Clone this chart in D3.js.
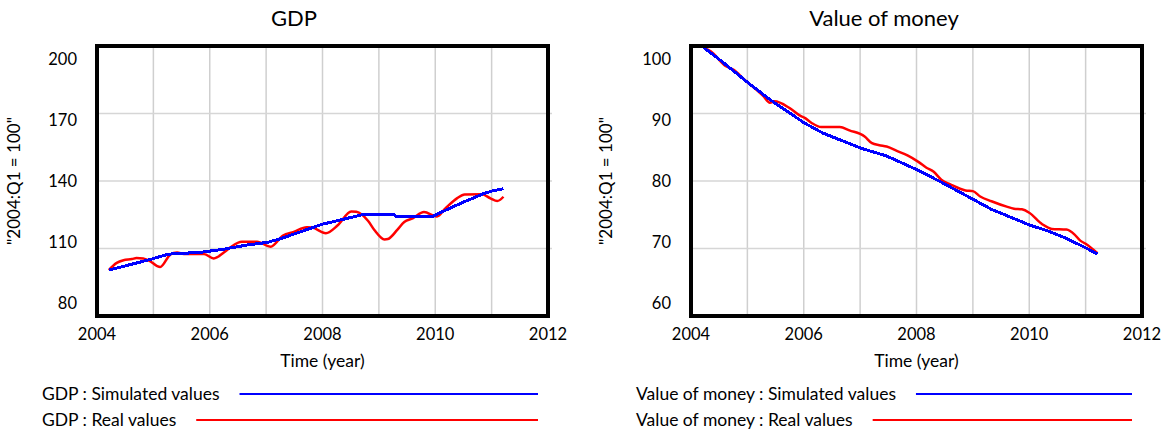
<!DOCTYPE html>
<html>
<head>
<meta charset="utf-8">
<script src="https://cdn.jsdelivr.net/npm/d3@7"></script>
<style>
    body { margin: 0; background: #fff; }
    text { font-family: Lato, "Open Sans", sans-serif; fill: #000; }
</style>
</head>
<body>
<div id="chart-area"></div>
<script>

// GDP (2004:Q1 = 100)
const gdpSimTime = [2004.21, 2004.94, 2005.27, 2005.84, 2006.25, 2006.67, 2007.02, 2007.26, 2008.00, 2008.69, 2009.28, 2009.31, 2009.94, 2010.06, 2010.48, 2010.85, 2011.00, 2011.21];
const gdpSim     = [100.4, 105.1, 107.5, 108.3, 109.7, 111.6, 112.7, 114.4, 120.8, 124.9, 124.9, 124.1, 124.1, 125.6, 130.4, 134.3, 135.5, 136.6];

const gdpRealTime = [2004.21, 2004.35, 2004.47, 2004.62, 2004.70, 2004.82, 2004.94, 2005.06, 2005.12, 2005.30, 2005.42, 2005.54, 2005.90, 2006.07, 2006.25, 2006.37, 2006.57, 2006.84, 2007.08, 2007.30, 2007.49, 2007.72, 2007.82, 2008.06, 2008.27, 2008.51, 2008.60, 2008.81, 2008.92, 2009.10, 2009.16, 2009.33, 2009.45, 2009.60, 2009.80, 2010.03, 2010.18, 2010.39, 2010.52, 2010.83, 2010.98, 2011.10, 2011.21];
const gdpReal     = [100.4, 103.6, 104.8, 105.3, 105.8, 105.6, 104.4, 102.3, 101.8, 107.3, 108.2, 107.6, 107.5, 105.6, 108.2, 110.6, 113.0, 113.0, 110.8, 115.8, 117.4, 119.5, 119.3, 116.8, 120.3, 126.5, 126.3, 122.2, 118.2, 114.0, 114.2, 118.4, 121.8, 123.4, 126.2, 124.2, 127.8, 132.4, 134.0, 134.1, 132.3, 131.1, 133.0];

// Value of money (2004:Q1 = 100)
const vomSimTime = [2004.22, 2004.55, 2005.02, 2005.41, 2006.01, 2006.34, 2007.00, 2007.47, 2008.00, 2008.40, 2009.00, 2009.33, 2010.00, 2010.33, 2010.66, 2011.00, 2011.21];
const vomSim     = [99.8, 97.7, 94.5, 92.0, 88.6, 87.1, 84.9, 83.7, 81.7, 80.0, 77.3, 75.8, 73.5, 72.6, 71.5, 70.1, 69.2];

const vomRealTime = [2004.22, 2004.35, 2004.62, 2004.75, 2004.95, 2005.28, 2005.40, 2005.48, 2005.75, 2005.95, 2006.01, 2006.14, 2006.31, 2006.64, 2006.81, 2007.08, 2007.21, 2007.34, 2007.47, 2007.67, 2007.84, 2008.04, 2008.17, 2008.30, 2008.44, 2008.60, 2008.87, 2009.00, 2009.13, 2009.33, 2009.60, 2009.73, 2009.87, 2010.00, 2010.23, 2010.40, 2010.66, 2010.80, 2010.90, 2011.00, 2011.21];
const vomReal     = [99.8, 99.2, 97.0, 96.5, 95.0, 92.6, 91.6, 91.8, 90.8, 89.6, 89.4, 88.6, 88.0, 88.0, 87.5, 86.6, 85.6, 85.3, 85.1, 84.4, 83.8, 82.8, 82.0, 81.4, 80.2, 79.5, 78.6, 78.5, 77.7, 77.0, 76.2, 75.9, 75.8, 75.3, 73.6, 72.9, 72.8, 72.1, 71.2, 70.7, 69.3];

const timeTicks = [2004, 2006, 2008, 2010, 2012];
const gridYears = [2005, 2006, 2007, 2008, 2009, 2010, 2011];
const gdpTicks = [80, 110, 140, 170, 200];
const vomTicks = [60, 70, 80, 90, 100];


class SimChart {

    constructor(svg, config) {
        this.svg = svg;
        this.config = config;
        this.initVis();
    }

    initVis() {
        let vis = this;
        let c = vis.config;

        vis.g = vis.svg.append("g");

        vis.x = d3.scaleLinear().domain([2004, 2012]).range([c.left, c.right]);
        vis.y = d3.scaleLinear().domain(c.domain).range([c.bottom, c.top]);
        // vensim spreads the tick labels evenly, inset from the frame
        vis.yLabel = d3.scaleLinear().domain(c.domain).range([c.bottom - 13, c.top + 13]);

        // grid
        vis.g.selectAll(".vgrid")
            .data(gridYears)
            .enter().append("line")
            .attr("x1", d => vis.x(d)).attr("x2", d => vis.x(d))
            .attr("y1", c.top).attr("y2", c.bottom)
            .attr("stroke", "#cfcfcf").attr("stroke-width", 1.5);

        vis.g.selectAll(".hgrid")
            .data(c.ticks.slice(1, -1))
            .enter().append("line")
            .attr("x1", c.left).attr("x2", c.right + 4)
            .attr("y1", d => vis.y(d)).attr("y2", d => vis.y(d))
            .attr("stroke", "#d6d6d6").attr("stroke-width", 1.5);

        // series
        let line = (xs, ys) => d3.line()
            .x((d, i) => vis.x(xs[i]))
            .y(d => vis.y(d))
            .curve(d3.curveMonotoneX)(ys);

        vis.g.append("path")
            .attr("d", line(c.realTime, c.real))
            .attr("fill", "none").attr("stroke", "#ff0000").attr("stroke-width", 2.5);

        vis.g.append("path")
            .attr("d", d3.line().x((d, i) => vis.x(c.simTime[i])).y(d => vis.y(d))(c.sim))
            .attr("fill", "none").attr("stroke", "#0000ff").attr("stroke-width", 3)
            .attr("shape-rendering", "crispEdges");

        // frame
        vis.g.append("rect")
            .attr("x", c.left).attr("y", c.top)
            .attr("width", c.right - c.left).attr("height", c.bottom - c.top)
            .attr("fill", "none").attr("stroke", "#000").attr("stroke-width", 4);

        // tick labels
        vis.g.selectAll(".xlab")
            .data(timeTicks)
            .enter().append("text")
            .attr("x", d => vis.x(d)).attr("y", c.bottom + 24)
            .attr("text-anchor", "middle").style("font-size", "16.5px")
            .text(d => d);

        vis.g.selectAll(".ylab")
            .data(c.ticks)
            .enter().append("text")
            .attr("x", c.left - 20).attr("y", d => vis.yLabel(d) + 6)
            .attr("text-anchor", "end").style("font-size", "16.5px")
            .text(d => d);

        // titles
        vis.g.append("text")
            .attr("x", c.titleX).attr("y", 26)
            .attr("text-anchor", "middle").style("font-size", "22px")
            .text(c.title);

        vis.g.append("text")
            .attr("x", (c.left + c.right) / 2).attr("y", 367)
            .attr("text-anchor", "middle").style("font-size", "17.5px")
            .text("Time (year)");

        vis.g.append("text")
            .attr("transform", `translate(${c.yTitleX},${(c.top + c.bottom) / 2}) rotate(-90)`)
            .attr("text-anchor", "middle").style("font-size", "17px")
            .text('"2004:Q1 = 100"');

        // legend
        let legend = [
            {label: c.title + " : Simulated values", color: "#0000ff", y: 394},
            {label: c.title + " : Real values", color: "#ff0000", y: 420}
        ];
        legend.forEach(l => {
            let t = vis.g.append("text")
                .attr("x", c.legendX).attr("y", l.y + 6)
                .style("font-size", "17.5px")
                .text(l.label);
            let end = c.legendX + t.node().getComputedTextLength();
            vis.g.append("line")
                .attr("x1", end + 20).attr("x2", c.right - 10)
                .attr("y1", l.y).attr("y2", l.y)
                .attr("stroke", l.color).attr("stroke-width", 2);
        });
    }
}

let svg = d3.select("#chart-area").append("svg")
    .attr("width", 1164)
    .attr("height", 430);

new SimChart(svg, {
    title: "GDP", titleX: 294, yTitleX: 20, legendX: 42,
    left: 97, right: 548, top: 46, bottom: 316,
    domain: [80, 200], ticks: gdpTicks,
    simTime: gdpSimTime, sim: gdpSim, realTime: gdpRealTime, real: gdpReal
});

new SimChart(svg, {
    title: "Value of money", titleX: 884, yTitleX: 612, legendX: 636,
    left: 691, right: 1142, top: 46, bottom: 316,
    domain: [60, 100], ticks: vomTicks,
    simTime: vomSimTime, sim: vomSim, realTime: vomRealTime, real: vomReal
});

</script>
</body>
</html>
